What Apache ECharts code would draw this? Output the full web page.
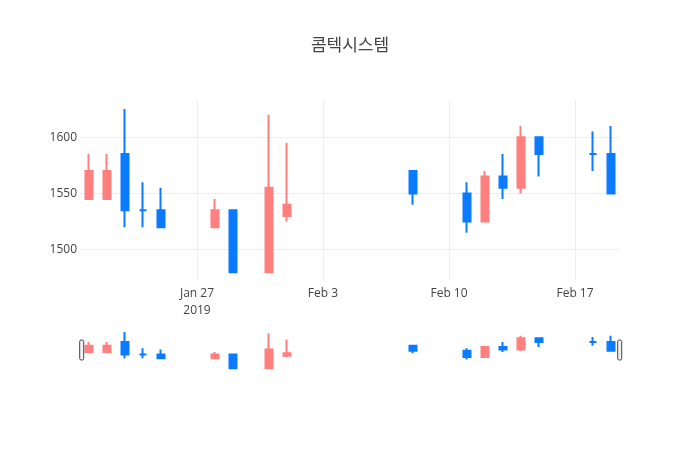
<!DOCTYPE html>
<html>
<head>
<meta charset="utf-8">
<title>콤텍시스템</title>
<script src="https://cdn.jsdelivr.net/npm/echarts@6/dist/echarts.min.js"></script>
<style>
  html, body { margin: 0; padding: 0; background: #fff; }
  #candleChart { width: 700px; height: 450px; }
</style>
</head>
<body>
<div id="candleChart"></div>
<script>
// 일별 시세 (시가 / 종가 / 저가 / 고가)
var dates = ["2019-01-21", "2019-01-22", "2019-01-23", "2019-01-24", "2019-01-25",
  "2019-01-28", "2019-01-29", "2019-01-31", "2019-02-01", "2019-02-08",
  "2019-02-11", "2019-02-12", "2019-02-13", "2019-02-14", "2019-02-15",
  "2019-02-18", "2019-02-19"];
var openArr  = [1545, 1545, 1585, 1535, 1535, 1520, 1535, 1480, 1530, 1570, 1550, 1525, 1565, 1555, 1600, 1585, 1585];
var closeArr = [1570, 1570, 1535, 1535, 1520, 1535, 1480, 1555, 1540, 1550, 1525, 1565, 1555, 1600, 1585, 1585, 1550];
var lowArr   = [1545, 1545, 1520, 1520, 1520, 1520, 1480, 1480, 1525, 1540, 1515, 1525, 1545, 1550, 1565, 1570, 1550];
var highArr  = [1585, 1585, 1625, 1560, 1555, 1545, 1535, 1620, 1595, 1570, 1560, 1570, 1585, 1610, 1600, 1605, 1610];

// 축 눈금
var xTickDates = ["2019-01-27", "2019-02-03", "2019-02-10", "2019-02-17"];
var xTickLabels = ["Jan 27\n2019", "Feb 3", "Feb 10", "Feb 17"];
var yTicks = [1500, 1550, 1600];
var xRange = ["2019-01-20T12", "2019-02-19T12"];
var yRange = [1473, 1633];

var upColor = "#ff7f7f";
var downColor = "#0a7bff";

// 날짜 문자열 -> 타임스탬프 (UTC 기준)
function toTime(s) {
  var parts = s.split("T");
  var d = parts[0].split("-");
  var h = parts.length > 1 ? parseInt(parts[1], 10) : 0;
  return Date.UTC(+d[0], +d[1] - 1, +d[2], h);
}

var candleData = [];
for (var i = 0; i < dates.length; i++) {
  candleData.push([toTime(dates[i]), openArr[i], closeArr[i], lowArr[i], highArr[i]]);
}
var xTickTimes = xTickDates.map(toTime);

var candleStyle = {
  color: upColor,
  color0: downColor,
  borderColor: upColor,
  borderColor0: downColor,
  borderColorDoji: downColor,
  borderWidth: 2,
};

var myChart = echarts.init(document.getElementById("candleChart"));

var option = {
  animation: false,
  backgroundColor: "#fff",
  textStyle: { fontFamily: "'Open Sans', 'Noto Sans CJK KR', sans-serif" },
  title: {
    text: "콤텍시스템",
    left: "center",
    top: 31,
    textStyle: {
      fontFamily: "'Noto Sans CJK KR', 'Open Sans', sans-serif",
      fontSize: 17,
      fontWeight: "normal",
      color: "#444",
    },
  },
  grid: [
    { left: 80, right: 80, top: 100, height: 180 },
    { left: 80, right: 80, top: 330, height: 40 },
  ],
  xAxis: [
    {
      type: "value",
      gridIndex: 0,
      min: toTime(xRange[0]),
      max: toTime(xRange[1]),
      axisLine: { show: false },
      axisTick: { show: false, customValues: xTickTimes },
      splitLine: { show: true, lineStyle: { color: "#eee", width: 1 } },
      axisLabel: {
        customValues: xTickTimes,
        color: "#444",
        fontSize: 12,
        lineHeight: 17,
        margin: 5,
        formatter: function (value) {
          var idx = xTickTimes.indexOf(value);
          return idx >= 0 ? xTickLabels[idx] : "";
        },
      },
    },
    {
      type: "value",
      gridIndex: 1,
      min: toTime(xRange[0]),
      max: toTime(xRange[1]),
      show: false,
    },
  ],
  yAxis: [
    {
      type: "value",
      gridIndex: 0,
      min: yRange[0],
      max: yRange[1],
      axisLine: { show: false },
      axisTick: { show: false, customValues: yTicks },
      splitLine: { show: true, lineStyle: { color: "#eee", width: 1 } },
      axisLabel: {
        customValues: yTicks,
        color: "#444",
        fontSize: 12,
        margin: 3,
        formatter: function (value) {
          return String(value);
        },
      },
    },
    {
      type: "value",
      gridIndex: 1,
      min: yRange[0],
      max: yRange[1],
      show: false,
    },
  ],
  dataZoom: [
    {
      type: "slider",
      xAxisIndex: [0, 1],
      filterMode: "none",
      start: 0,
      end: 100,
      left: 80,
      right: 80,
      top: 330,
      height: 40,
      backgroundColor: "rgba(0,0,0,0)",
      borderColor: "rgba(0,0,0,0)",
      fillerColor: "rgba(0,0,0,0)",
      showDetail: false,
      showDataShadow: false,
      brushSelect: false,
      moveHandleSize: 0,
      dataBackground: { lineStyle: { opacity: 0 }, areaStyle: { opacity: 0 } },
      selectedDataBackground: { lineStyle: { opacity: 0 }, areaStyle: { opacity: 0 } },
      handleIcon: "path://M1.5,0 h1 a1.5,1.5 0 0 1 1.5,1.5 v17 a1.5,1.5 0 0 1 -1.5,1.5 h-1 a1.5,1.5 0 0 1 -1.5,-1.5 v-17 a1.5,1.5 0 0 1 1.5,-1.5 z",
      handleSize: "50%",
      handleStyle: { color: "#f2f2f2", borderColor: "#444", borderWidth: 1 },
      emphasis: { handleStyle: { color: "#f2f2f2", borderColor: "#444" } },
    },
  ],
  series: [
    {
      name: "콤텍시스템",
      type: "candlestick",
      xAxisIndex: 0,
      yAxisIndex: 0,
      barWidth: 8,
      itemStyle: candleStyle,
      data: candleData,
    },
    {
      name: "slider",
      type: "candlestick",
      xAxisIndex: 1,
      yAxisIndex: 1,
      barWidth: 8,
      silent: true,
      itemStyle: candleStyle,
      data: candleData,
    },
  ],
};

myChart.setOption(option);
</script>
</body>
</html>
